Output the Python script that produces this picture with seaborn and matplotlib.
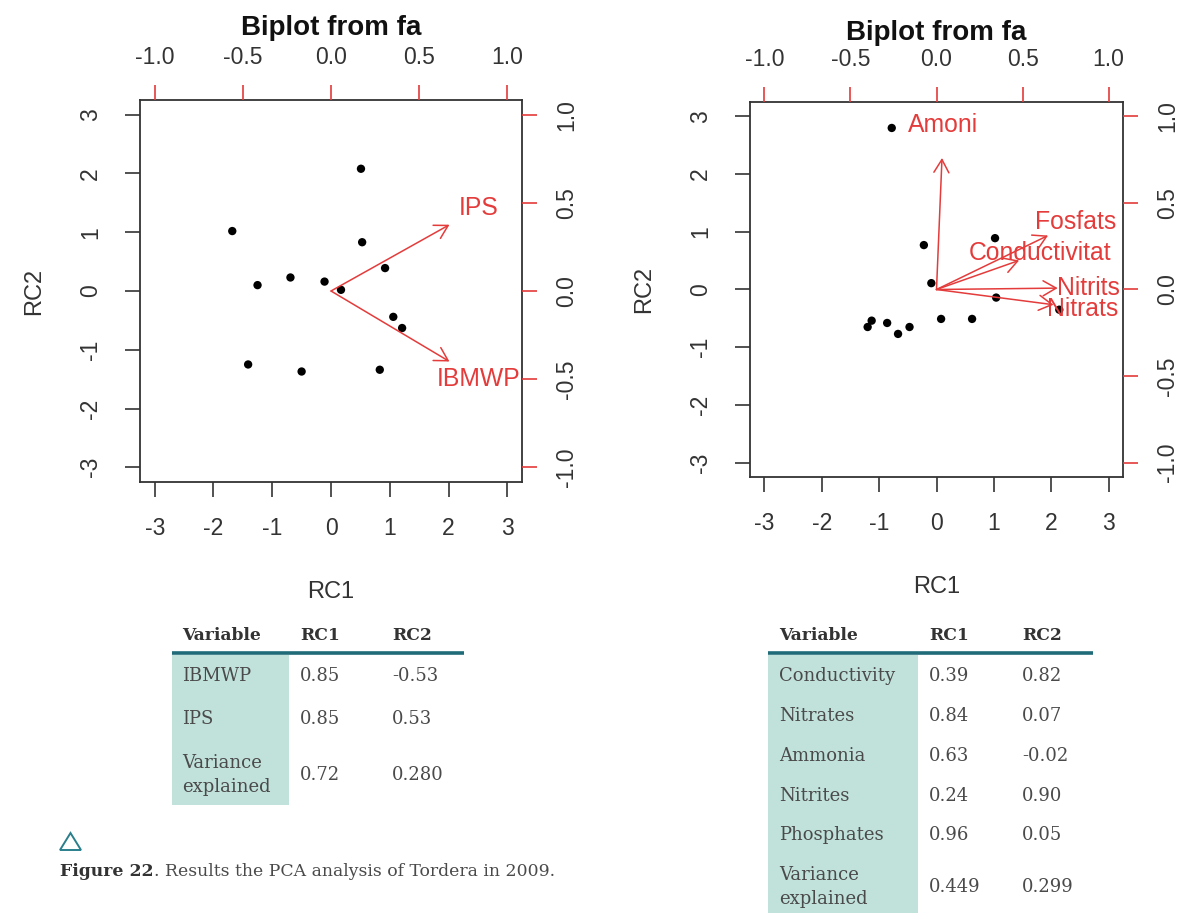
import numpy as np
import pandas as pd
import matplotlib
matplotlib.use("Agg")
import matplotlib.pyplot as plt
import seaborn as sns
from matplotlib.patches import Rectangle, Polygon

# ---------------- data ----------------
left_rc1 = [0.51, -1.68, 0.53, 0.92, -1.25, -0.69, -0.11, 0.17, 1.06, 1.21, -1.41, -0.50, 0.83]
left_rc2 = [2.08, 1.02, 0.83, 0.39, 0.10, 0.23, 0.16, 0.02, -0.44, -0.63, -1.25, -1.37, -1.34]
left_vars = ["IPS", "IBMWP"]
left_load1 = [0.84, 0.84]
left_load2 = [0.47, -0.50]

right_rc1 = [-0.78, -0.22, 1.02, -0.09, 1.04, 2.14, 0.08, 0.62, -1.13, -1.20, -0.86, -0.67, -0.47]
right_rc2 = [2.80, 0.77, 0.89, 0.11, -0.14, -0.35, -0.51, -0.51, -0.54, -0.65, -0.58, -0.77, -0.65]
right_vars = ["Amoni", "Fosfats", "Conductivitat", "Nitrits", "Nitrats"]
right_load1 = [0.04, 0.81, 0.60, 0.88, 0.85]
right_load2 = [0.95, 0.39, 0.21, 0.01, -0.11]

score_ticks = [-3, -2, -1, 0, 1, 2, 3]
load_ticks = [-1.0, -0.5, 0.0, 0.5, 1.0]
load_tick_labels = ["-1.0", "-0.5", "0.0", "0.5", "1.0"]

table_header = ["Variable", "RC1", "RC2"]
t1_vars = ["IBMWP", "IPS", "Variance\nexplained"]
t1_rc1 = ["0.85", "0.85", "0.72"]
t1_rc2 = ["-0.53", "0.53", "0.280"]

t2_vars = ["Conductivity", "Nitrates", "Ammonia", "Nitrites", "Phosphates", "Variance\nexplained"]
t2_rc1 = ["0.39", "0.84", "0.63", "0.24", "0.96", "0.449"]
t2_rc2 = ["0.82", "0.07", "-0.02", "0.90", "0.05", "0.299"]

caption_bold = "Figure 22"
caption_rest = ". Results the PCA analysis of Tordera in 2009."

# ---------------- style ----------------
sns.set_theme(style="white")
plt.rcParams['font.family'] = ['Liberation Sans', 'DejaVu Sans']

W, H = 1183, 913
fig = plt.figure(figsize=(W / 100, H / 100), dpi=100)
fig.patch.set_facecolor("white")

RED = "#e43b3b"
DARK = "#333333"


def rect_px(x0, y0, x1, y1):
    return [x0 / W, 1 - y1 / H, (x1 - x0) / W, (y1 - y0) / H]


def biplot(box, rc1, rc2, names, l1, l2, title_y, xlabelpad, ylabelpad):
    rect = rect_px(*box)
    lim = 3.25
    ax = fig.add_axes(rect)
    df = pd.DataFrame({"RC1": rc1, "RC2": rc2})
    sns.scatterplot(data=df, x="RC1", y="RC2", ax=ax, color="black", s=36,
                    edgecolor="none", zorder=3, legend=False)
    ax.set_xlim(-lim, lim)
    ax.set_ylim(-lim, lim)
    ax.set_xticks(score_ticks)
    ax.set_yticks(score_ticks)
    ax.set_xticklabels([str(t) for t in score_ticks])
    ax.set_yticklabels([str(t) for t in score_ticks], rotation=90, va="center")
    ax.tick_params(axis="both", direction="out", length=11, width=1.2,
                   color=DARK, labelsize=16.5, labelcolor=DARK,
                   bottom=True, left=True)
    ax.tick_params(axis="x", pad=14.5)
    ax.tick_params(axis="y", pad=16.5)
    for sp in ax.spines.values():
        sp.set_color(DARK)
        sp.set_linewidth(1.3)
    ax.set_xlabel("RC1", fontsize=17, color=DARK, labelpad=xlabelpad)
    ax.set_ylabel("RC2", fontsize=17, color=DARK, labelpad=ylabelpad)
    ax.set_facecolor("white")

    axl = fig.add_axes(rect, label="loadings" + str(box[0]))
    axl.patch.set_alpha(0)
    axl.set_xlim(-lim / 3, lim / 3)
    axl.set_ylim(-lim / 3, lim / 3)
    for sp in axl.spines.values():
        sp.set_visible(False)
    axl.xaxis.tick_top()
    axl.yaxis.tick_right()
    axl.set_xticks(load_ticks)
    axl.set_yticks(load_ticks)
    axl.set_xticklabels(load_tick_labels)
    axl.set_yticklabels(load_tick_labels, rotation=90, va="center")
    axl.tick_params(axis="both", direction="out", length=11, width=1.2,
                    color=RED, labelsize=16.5, labelcolor=DARK,
                    top=True, right=True, bottom=False, left=False)
    axl.tick_params(axis="x", pad=11)
    axl.tick_params(axis="y", pad=13)
    for n, a, b in zip(names, l1, l2):
        axl.annotate("", xy=(0.8 * a, 0.8 * b), xytext=(0, 0),
                     arrowprops=dict(arrowstyle="->,head_length=0.94,head_width=0.54",
                                     color=RED, lw=1.1, shrinkA=0, shrinkB=0,
                                     mutation_scale=10))
        axl.text(a, b, n, color=RED, ha="center", va="center", fontsize=17.8,
                 clip_on=True)
    cx = (box[0] + box[2]) / 2
    fig.text(cx / W, 1 - title_y / H, "Biplot from fa", ha="center", va="center",
             fontsize=20, fontweight="bold", color="#111111")
    return ax


biplot((140, 100, 522, 482), left_rc1, left_rc2, left_vars, left_load1, left_load2,
       28, 29, 24)
biplot((750, 102, 1123, 477), right_rc1, right_rc2, right_vars, right_load1, right_load2,
       33, 29, 24)

# ---------------- tables ----------------
tab = fig.add_axes([0, 0, 1, 1], zorder=-1)
tab.set_xlim(0, W)
tab.set_ylim(H, 0)
tab.axis("off")

SERIF = ["DejaVu Serif"]
TEAL = "#1f6b78"
SHADE = "#c1e2db"
TXT = "#4a4a4a"
FS = 13


def draw_table(x0, x1, shade_x1, col_x, row_y, shade_bottom, vars_, r1, r2):
    tab.add_patch(Rectangle((x0, 655), shade_x1 - x0, shade_bottom - 655,
                            facecolor=SHADE, edgecolor="none"))
    tab.plot([x0, x1], [653, 653], color=TEAL, lw=2.6, solid_capstyle="butt")
    for i, h in enumerate(table_header):
        tab.text(col_x[i], 635, h, ha="left", va="center", fontsize=12.3,
                 fontweight="bold", color="#333333", family=SERIF)
    for y, v, a, b in zip(row_y, vars_, r1, r2):
        tab.text(col_x[0], y + 1, v, ha="left", va="center", fontsize=FS, color=TXT,
                 family=SERIF, linespacing=1.45)
        tab.text(col_x[1], y + 1, a, ha="left", va="center", fontsize=FS, color=TXT,
                 family=SERIF)
        tab.text(col_x[2], y + 1, b, ha="left", va="center", fontsize=FS, color=TXT,
                 family=SERIF)


draw_table(172, 464, 289, [182, 300, 392], [675, 718, 774], 805,
           t1_vars, t1_rc1, t1_rc2)
draw_table(768, 1093, 918, [779, 929, 1022], [675, 715, 755, 795, 834, 886], 913,
           t2_vars, t2_rc1, t2_rc2)

# triangle icon
tab.add_patch(Polygon([[60, 850], [81, 850], [70.5, 833]], closed=True,
                      facecolor="none", edgecolor="#2a7f8c", lw=1.4))

# caption
cb = tab.text(60, 872, caption_bold, ha="left", va="center", fontsize=12.4,
              fontweight="bold", color="#333333", family=SERIF)
tab.annotate(caption_rest, xy=(1, 0), xycoords=cb, ha="left", va="bottom",
             fontsize=12.4, color=TXT, family=SERIF)

fig.savefig("out.png", dpi=100, facecolor="white")
